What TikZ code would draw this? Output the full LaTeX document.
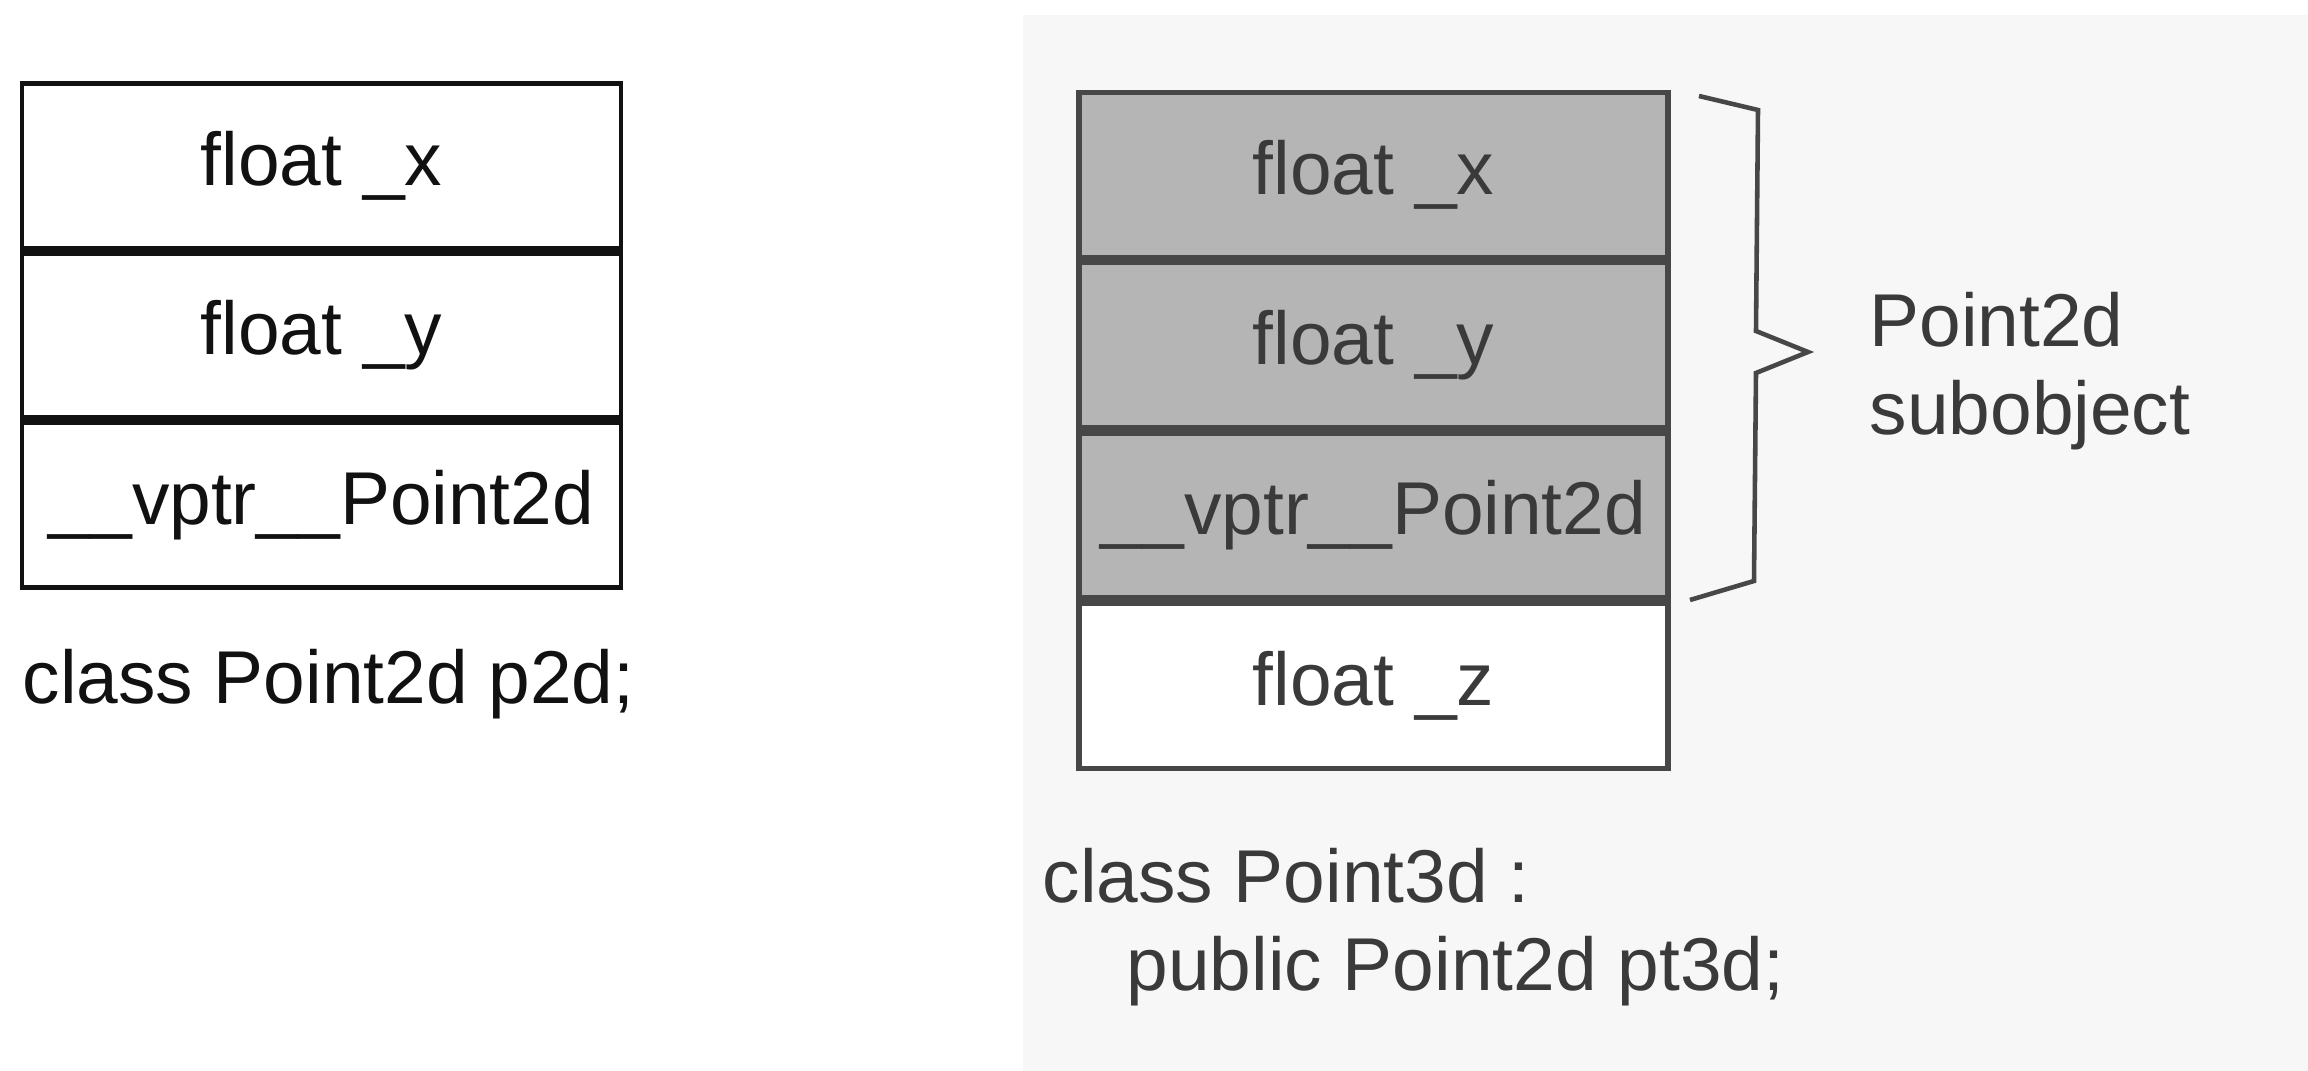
\documentclass[tikz,border=0pt]{standalone}
\usepackage{fontspec}
\setmainfont{Liberation Sans}
\usepackage{tikz}
\usetikzlibrary{positioning}
\definecolor{ink}{HTML}{111111}
\definecolor{panelgray}{HTML}{F7F7F7}
\definecolor{subgray}{HTML}{B5B5B5}
\definecolor{linegray}{HTML}{474747}
\definecolor{textgray}{HTML}{3A3A3A}
\newcommand{\memfont}{\fontsize{21.3}{25}\selectfont}
\tikzset{
  membox/.style={
    rectangle, draw=ink, line width=1.4pt, text=ink,
    minimum width=5.99cm, minimum height=1.645cm,
    font=\memfont, inner sep=0pt
  },
  subbox/.style={
    rectangle, draw=linegray, fill=#1, line width=1.5pt, text=textgray,
    minimum width=5.89cm, minimum height=1.65cm,
    font=\memfont, inner sep=0pt
  },
  subbox/.default=subgray,
  declabel/.style={anchor=west, inner sep=0pt, font=\memfont, align=left, text=#1},
  declabel/.default=ink,
  bracestroke/.style={draw=linegray, line width=1.3pt, line join=miter}
}
\begin{document}
\begin{tikzpicture}
  \useasboundingbox (0,0) rectangle (23.08,-10.71);
  \fill[panelgray] (10.23,-0.15) rectangle (23.08,-10.71);
  % Point2d object
  \node[membox] (p2x) at (3.215,-1.66) {float \_x};
  \node[membox, below=0pt of p2x] (p2y) {float \_y};
  \node[membox, below=0pt of p2y] (p2vptr) {\_\_vptr\_\_Point2d};
  \node[declabel] (p2decl) at (0.22,-6.84) {class Point2d p2d;};
  % Point3d object
  \node[subbox] (p3x) at (13.735,-1.75) {float \_x};
  \node[subbox, below=0pt of p3x] (p3y) {float \_y};
  \node[subbox, below=0pt of p3y] (p3vptr) {\_\_vptr\_\_Point2d};
  \node[subbox=white, below=0pt of p3vptr] (p3z) {float \_z};
  \draw[bracestroke] (16.99,-0.96) -- (17.58,-1.10) -- (17.56,-3.31)
    -- (18.08,-3.52) -- (17.56,-3.73) -- (17.54,-5.81) -- (16.90,-6.00);
  \node[declabel=textgray] (sublabel) at (18.69,-3.71) {Point2d\\subobject};
  \node[declabel=textgray] (p3decl) at (10.42,-9.27)
    {class Point3d :\\\hspace*{0.84cm}public Point2d pt3d;};
\end{tikzpicture}
\end{document}
